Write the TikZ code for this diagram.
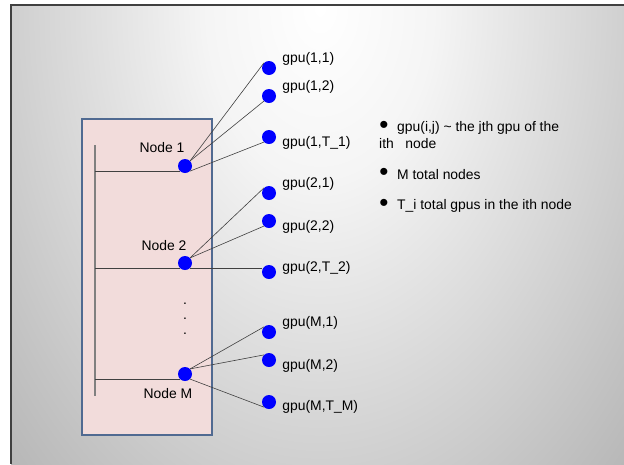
\documentclass[tikz,border=0pt]{standalone}
\usepackage{fontspec}
\setmainfont{Liberation Sans}
\usetikzlibrary{positioning}

\definecolor{boxfill}{RGB}{242,220,219}
\definecolor{boxedge}{RGB}{80,106,145}
\definecolor{glow0}{rgb}{1,1,1}
\definecolor{glow1}{rgb}{0.96,0.96,0.96}
\definecolor{glow2}{rgb}{0.77,0.77,0.77}
\definecolor{glow3}{rgb}{0.62,0.62,0.62}
\definecolor{glow4}{rgb}{0.57,0.57,0.57}
\definecolor{glow5}{rgb}{0.53,0.53,0.53}
\definecolor{glow6}{rgb}{0.50,0.50,0.50}

% slide background, bright at the top
\pgfdeclareradialshading{slideglow}{\pgfpoint{0bp}{0bp}}{color(0bp)=(glow0); color(5bp)=(glow1); color(16bp)=(glow2); color(25bp)=(glow3); color(30bp)=(glow4); color(36bp)=(glow5); color(50bp)=(glow6)}

\tikzset{
  host/.style={circle, fill=blue, minimum size=14pt, inner sep=0pt},
  gpu/.style={circle, fill=blue, minimum size=14pt, inner sep=0pt},
  gpulabel/.style={inner sep=0pt},
  link/.style={draw=black!75, line width=0.6pt},
  bus/.style={draw=black!50, line width=1.2pt},
  cluster/.style={rectangle, draw=boxedge, fill=boxfill, line width=1.2pt},
  bulletmark/.style={inner sep=0pt, font=\fontsize{26pt}{26pt}\selectfont},
  note/.style={inner sep=0pt, anchor=west}
}

\begin{document}
\begin{tikzpicture}[x=1pt, y=-1pt, font=\fontsize{13.9pt}{16pt}\selectfont]
    \useasboundingbox (0,0) rectangle (624,464);

    % background
    \begin{scope}
        \clip (11,5) rectangle (624,464);
        \shade[shading=slideglow] (320,8) ellipse [x radius=570pt, y radius=850pt];
    \end{scope}
    \draw[black!75, line width=1.2pt] (11,464) -- (11,5) -- (624,5);

    % the machine
    \node (box) [cluster, minimum width=130pt, minimum height=316pt] at (147,277) {};
    \coordinate (bustop) at (95,145);
    \coordinate (busbot) at (95,396);
    \draw[bus] (bustop) -- (busbot);

    % compute nodes
    \node (n1) [host] at (185,166) {};
    \node (n2) [host] at (185,263) {};
    \node (nM) [host] at (185,374) {};
    \node (n1label) [inner sep=0pt, above=6pt of n1, xshift=-23pt] {Node 1};
    \node (n2label) [inner sep=0pt, above=5pt of n2, xshift=-21pt] {Node 2};
    \node (nMlabel) [inner sep=0pt, below=7pt of nM, xshift=-17pt] {Node M};
    \foreach \y/\name in {304/dotA, 319/dotB, 334/dotC}
        \node (\name) [inner sep=0pt] at (185,\y) {.};

    \draw[link] (n1.south west) -- (n1.south west -| bustop);
    \draw[link] (n2.south west) -- (n2.south west -| bustop);
    \draw[link] (nM.south west) -- (nM.south west -| bustop);

    % gpus
    \node (g11) [gpu] at (269,68) {};
    \node (g12) [gpu] at (269,96) {};
    \node (g1T) [gpu] at (269,137) {};
    \node (g21) [gpu] at (269,193) {};
    \node (g22) [gpu] at (269,221) {};
    \node (g2T) [gpu] at (269,272) {};
    \node (gM1) [gpu] at (269,332) {};
    \node (gM2) [gpu] at (269,360) {};
    \node (gMT) [gpu] at (269,402) {};

    \node (g11label) [gpulabel, right=6pt of g11, yshift=9pt] {gpu(1,1)};
    \node (g12label) [gpulabel, right=6pt of g12, yshift=9pt] {gpu(1,2)};
    \node (g1Tlabel) [gpulabel, right=6pt of g1T, yshift=-6pt] {gpu(1,T\_1)};
    \node (g21label) [gpulabel, right=6pt of g21, yshift=9pt] {gpu(2,1)};
    \node (g22label) [gpulabel, right=6pt of g22, yshift=-6pt] {gpu(2,2)};
    \node (g2Tlabel) [gpulabel, right=6pt of g2T, yshift=4pt] {gpu(2,T\_2)};
    \node (gM1label) [gpulabel, right=6pt of gM1, yshift=9pt] {gpu(M,1)};
    \node (gM2label) [gpulabel, right=6pt of gM2, yshift=-6pt] {gpu(M,2)};
    \node (gMTlabel) [gpulabel, right=6pt of gMT, yshift=-5pt] {gpu(M,T\_M)};

    % links node -> gpu
    \draw[link] (n1.north east) -- (g11.north west);
    \draw[link] (n1.north east) -- (g12.south west);
    \draw[link] (n1.south east) -- (g1T.south west);
    \draw[link] (n2.north east) -- (g21.north west);
    \draw[link] (n2.north east) -- (g22.south west);
    \draw[link] (n2.south east) -- (n2.south east -| g2T.west);
    \draw[link] (nM.north east) -- (gM1.north west);
    \draw[link] (nM.north east) -- (gM2.north west);
    \draw[link] (nM.south east) -- (gMT.south west);

    % legend
    \node (b1) [bulletmark] at (384,127) {•};
    \node (b2) [bulletmark] at (384,174) {•};
    \node (b3) [bulletmark] at (384,205) {•};
    \node (note1) [note] at (397,128) {gpu(i,j) \textasciitilde{} the jth gpu of the};
    \node (note1b) [note] at (379,144) {ith\ \ \ node};
    \node (note2) [note] at (397,175) {M total nodes};
    \node (note3) [note] at (397,206) {T\_i total gpus in the ith node};
\end{tikzpicture}
\end{document}
